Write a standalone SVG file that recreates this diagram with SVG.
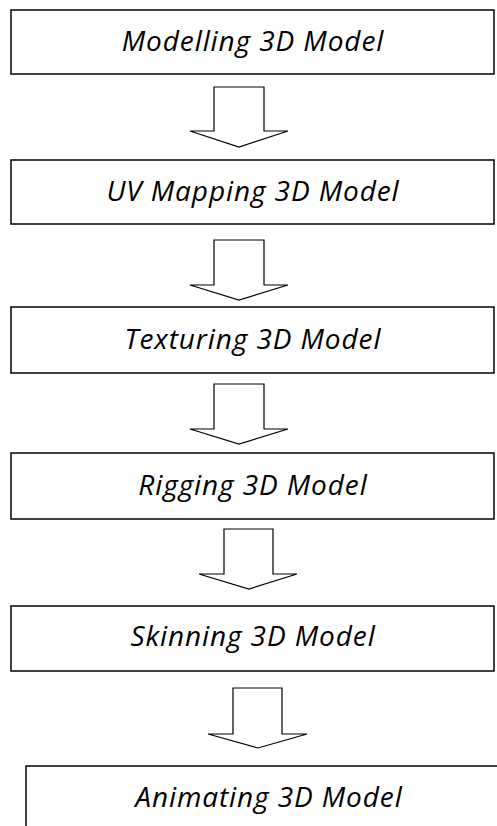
<svg xmlns="http://www.w3.org/2000/svg" width="497" height="826" viewBox="0 0 497 826">
  <style>
    .box { fill: #fff; stroke: #000; stroke-width: 1.5; }
    .lbl { font-family: "Open Sans", "Noto Sans", sans-serif; font-style: italic; font-size: 28px; letter-spacing: 0.9px; fill: #000; text-anchor: middle; }
    .arrow { fill: #fff; stroke: #000; stroke-width: 1.2; stroke-linejoin: miter; }
  </style>
  <rect width="497" height="826" fill="#fff"/>

  <g id="connectors">
    <polygon class="arrow" points="214,87 264,87 264,131 288,131 239,147 190,131 214,131"/>
    <polygon class="arrow" points="214,240 264,240 264,285 288,285 239,300 190,285 214,285"/>
    <polygon class="arrow" points="214,384 264,384 264,429 288,429 239,444 190,429 214,429"/>
    <polygon class="arrow" points="224,529 273,529 273,574 297,574 249,589 199,574 224,574"/>
    <polygon class="arrow" points="233,688 282,688 282,734 307,734 258,748 208,734 233,734"/>
  </g>

  <g id="modelling">
    <rect class="box" x="11" y="10" width="483" height="64"/>
    <text class="lbl" x="253" y="51">Modelling 3D Model</text>
  </g>
  <g id="uv-mapping">
    <rect class="box" x="11" y="160" width="483" height="64"/>
    <text class="lbl" x="253" y="201">UV Mapping 3D Model</text>
  </g>
  <g id="texturing">
    <rect class="box" x="11" y="307" width="483" height="66"/>
    <text class="lbl" x="253" y="349">Texturing 3D Model</text>
  </g>
  <g id="rigging">
    <rect class="box" x="11" y="453" width="483" height="66"/>
    <text class="lbl" x="253" y="495">Rigging 3D Model</text>
  </g>
  <g id="skinning">
    <rect class="box" x="11" y="606" width="483" height="65"/>
    <text class="lbl" x="253" y="646">Skinning 3D Model</text>
  </g>
  <g id="animating">
    <rect class="box" x="26" y="766" width="490" height="80"/>
    <text class="lbl" x="269" y="807">Animating 3D Model</text>
  </g>
</svg>
